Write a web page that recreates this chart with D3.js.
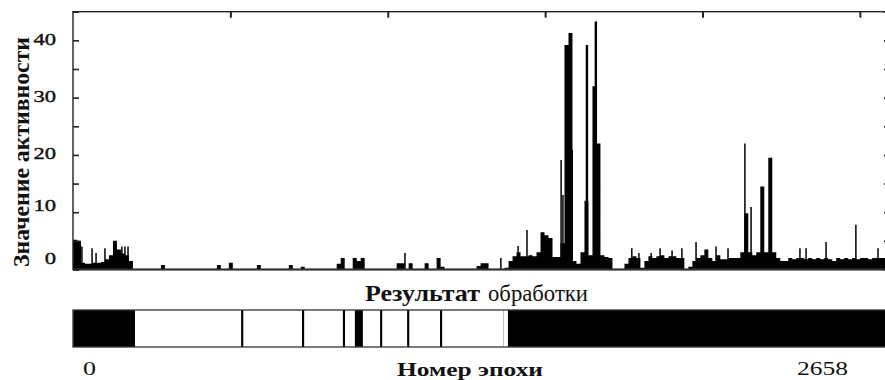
<!DOCTYPE html>
<html>
<head>
<meta charset="utf-8">
<script src="https://cdn.jsdelivr.net/npm/d3@7"></script>
<style>
  body { margin: 0; background: #fff; }
  svg { display: block; font-family: "Liberation Serif", "DejaVu Serif", serif; }
</style>
</head>
<body>
<div id="chart"></div>
<script>
// epochs in the record and the bin size used for the activity envelope
const totalEpochs = 2658;
const binSize = 13;

// activity level per bin of 13 epochs
const activity = [
  5.2, 5.0, 1.2, 1.0, 1.0, 1.2, 1.2, 1.3, 1.8, 2.5, 5.0, 3.5, 2.8, 2.5, 1.5,
  0, 0, 0, 0, 0, 0, 0, 0.8, 0, 0, 0, 0, 0, 0, 0, 0, 0, 0, 0, 0, 0, 0.8,
  0, 0, 1.2, 0, 0, 0, 0, 0, 0, 0.8, 0, 0, 0, 0, 0, 0, 0, 0.8, 0, 0, 0.5,
  0, 0, 0, 0, 0, 0, 0, 0, 1.0, 2.0, 0, 0, 2.0, 1.5, 2.0,
  0, 0, 0, 0, 0, 0, 0, 0, 1.1, 1.1, 0, 1.1, 0, 0, 0, 1.1, 0, 0, 2.0, 0.5,
  0, 0, 0, 0, 0, 0, 0, 0, 0.6, 1.1, 1.1, 0, 0, 0, 0, 0.3,
  1.5, 2.3, 3.0, 2.3, 2.3, 2.5, 2.3, 3.0, 6.5, 6.0, 5.5, 2.2, 2.2, 4.6,
  39.2, 41.3, 1.5, 1.0, 3.0, 12, 2.5, 32, 22, 2.5, 2.2, 2.0, 0, 0, 0,
  1.0, 2.0, 2.3, 2.0, 0.3, 1.5, 2.3, 2.0, 2.3, 2.5, 2.0, 2.3, 2.3, 2.0, 2.0,
  0, 0.5, 1.5, 2.0, 2.5, 3.5, 2.0, 1.5, 2.5, 1.8, 1.8, 2.0, 2.0, 2.0, 3.0,
  9.8, 3.0, 2.5, 3.0, 14.5, 3.0, 19.5, 3.0, 2.0, 1.5, 1.5, 2.0, 1.8, 2.0,
  2.0, 1.8, 2.0, 1.8, 2.0, 1.8, 2.0, 1.8, 1.5, 2.0, 1.8, 2.0, 1.8, 2.0,
  1.8, 2.0, 2.0, 1.8, 2.0, 2.0, 2.0, 2.0, 2.0
];

// single-epoch spikes that rise above the envelope
const spikeEpochs = [29, 62, 75, 104, 137, 159, 169, 179, 1080, 1392, 1448, 1477,
  1588, 1594, 1624, 1672, 1701, 1818, 1841, 1881, 1910, 1949, 1981, 2027, 2092,
  2131, 2186, 2206, 2365, 2385, 2450, 2547, 2619];
const spikeValues = [4.0, 3.7, 2.9, 3.7, 4.3, 4.0, 4.0, 4.0, 2.9, 2.0, 4.1, 6.9,
  19.1, 13, 20.9, 39.2, 43.3, 3.7, 2.9, 2.9, 3.7, 3.3, 3.7, 4.8, 4.0,
  3.7, 22, 10.9, 3.7, 3.7, 4.8, 7.8, 3.7];

// processing result: epoch ranges and class (1 = detected, 0 = none, 2 = borderline)
const segFrom  = [0, 202, 547, 745, 878, 917, 999, 1087, 1194, 1399, 1415];
const segTo    = [202, 1415, 554, 752, 885, 943, 1006, 1094, 1201, 1402, 2658];
const segClass = [1, 0, 1, 1, 1, 1, 1, 1, 1, 2, 1];

const yTickValues = [0, 5, 10, 15, 20, 25, 30, 35, 40, 45];
const yLabelValues = [0, 10, 20, 30, 40];
const xTickValues = [512, 1024, 1536, 2048, 2560];

const width = 885, height = 380;
const plotLeft = 73, plotRight = 890, plotTop = 11.7, plotBottom = 269.5;

const svg = d3.select('#chart').append('svg')
  .attr('width', width)
  .attr('height', height);

const x = d3.scaleLinear().domain([0, totalEpochs]).range([plotLeft, plotRight]);
const y = d3.scaleLinear().domain([0, 45]).range([plotBottom, plotTop]);

// activity envelope
const bins = activity.map((v, i) => ({e: i * binSize, v}));
bins.push({e: activity.length * binSize, v: 0});

svg.append('defs').append('clipPath').attr('id', 'plotClip')
  .append('rect')
  .attr('x', plotLeft).attr('y', plotTop)
  .attr('width', plotRight - plotLeft).attr('height', plotBottom - plotTop);

const plot = svg.append('g').attr('clip-path', 'url(#plotClip)');

const area = d3.area()
  .curve(d3.curveStepAfter)
  .x(d => x(d.e))
  .y0(y(0))
  .y1(d => y(d.v));

plot.append('path')
  .datum(bins)
  .attr('d', area)
  .attr('fill', '#000');

plot.selectAll('line.spike')
  .data(spikeEpochs.map((e, i) => ({e, v: spikeValues[i]})))
  .join('line')
  .attr('class', 'spike')
  .attr('x1', d => x(d.e)).attr('x2', d => x(d.e))
  .attr('y1', y(0)).attr('y2', d => y(d.v))
  .attr('stroke', '#000')
  .attr('stroke-width', d => d.v > 30 ? 2.4 : 1.5);

// frame
svg.append('rect')
  .attr('x', plotLeft).attr('y', plotTop)
  .attr('width', plotRight - plotLeft).attr('height', plotBottom - plotTop)
  .attr('fill', 'none')
  .attr('stroke', '#222')
  .attr('stroke-width', 1.4);
svg.append('line')
  .attr('x1', plotLeft).attr('x2', plotRight)
  .attr('y1', plotBottom).attr('y2', plotBottom)
  .attr('stroke', '#333').attr('stroke-width', 2.2);

// left axis with inward ticks
const labelShift = v => v === 0 ? -12 : v === 10 ? -8 : -2;
const yAxis = svg.append('g')
  .attr('transform', `translate(${plotLeft},0)`)
  .call(d3.axisLeft(y)
    .tickValues(yTickValues)
    .tickSizeInner(-6)
    .tickSizeOuter(0)
    .tickPadding(17)
    .tickFormat(v => yLabelValues.includes(v) ? v : ''));
yAxis.select('.domain').remove();
yAxis.selectAll('.tick line').attr('stroke', '#222').attr('stroke-width', 1.6);
yAxis.selectAll('.tick text')
  .attr('font-size', 17)
  .attr('fill', '#111')
  .attr('stroke', '#111')
  .attr('stroke-width', 0.4)
  .attr('font-family', '"Liberation Serif", serif')
  .attr('dy', v => (labelShift(v) + 6) + 'px')
  .each(function (v) {
    const s = String(v);
    if (s && yLabelValues.includes(v)) {
      d3.select(this).attr('textLength', 11.3 * s.length).attr('lengthAdjust', 'spacingAndGlyphs');
    }
  });

// right axis ticks
const yAxisR = svg.append('g')
  .attr('transform', `translate(${plotRight},0)`)
  .call(d3.axisRight(y).tickValues(yTickValues).tickSizeInner(-6).tickSizeOuter(0).tickFormat(''));
yAxisR.select('.domain').remove();
yAxisR.selectAll('.tick line').attr('stroke', '#222').attr('stroke-width', 1.6);

// top axis ticks
const xAxisTop = svg.append('g')
  .attr('transform', `translate(0,${plotTop})`)
  .call(d3.axisTop(x).tickValues(xTickValues).tickSizeInner(-6).tickSizeOuter(0).tickFormat(''));
xAxisTop.select('.domain').remove();
xAxisTop.selectAll('.tick line').attr('stroke', '#222').attr('stroke-width', 2);

// y title
svg.append('text')
  .attr('transform', 'translate(28.5,152) rotate(-90)')
  .attr('text-anchor', 'middle')
  .attr('font-size', 23)
  .attr('font-weight', 'bold')
  .attr('fill', '#111')
  .attr('textLength', 230)
  .attr('lengthAdjust', 'spacingAndGlyphs')
  .text('Значение активности');

// result bar
const barTop = 310, barBottom = 347;
const segColor = c => c === 1 ? '#000' : c === 2 ? '#bbb' : '#fff';
const bar = svg.append('g');
bar.selectAll('rect.seg')
  .data(segFrom.map((f, i) => ({f, t: segTo[i], c: segClass[i]})))
  .join('rect')
  .attr('class', 'seg')
  .attr('x', d => x(d.f))
  .attr('y', barTop)
  .attr('width', d => x(d.t) - x(d.f))
  .attr('height', barBottom - barTop)
  .attr('fill', d => segColor(d.c));
bar.append('rect')
  .attr('x', plotLeft).attr('y', barTop)
  .attr('width', plotRight - plotLeft).attr('height', barBottom - barTop)
  .attr('fill', 'none')
  .attr('stroke', '#333')
  .attr('stroke-width', 1.3);

const title = svg.append('text')
  .attr('y', 300.5)
  .attr('font-size', 23)
  .attr('fill', '#111');
title.append('tspan')
  .attr('x', 365)
  .attr('font-weight', 'bold')
  .attr('textLength', 115)
  .attr('lengthAdjust', 'spacingAndGlyphs')
  .text('Результат');
title.append('tspan')
  .attr('x', 488)
  .attr('textLength', 100)
  .attr('lengthAdjust', 'spacingAndGlyphs')
  .text('обработки');

// bottom labels
svg.append('text')
  .attr('x', 83).attr('y', 375)
  .attr('font-size', 19).attr('fill', '#111')
  .attr('textLength', 13).attr('lengthAdjust', 'spacingAndGlyphs')
  .text('0');
svg.append('text')
  .attr('x', 797).attr('y', 375)
  .attr('font-size', 19).attr('fill', '#111')
  .attr('textLength', 51).attr('lengthAdjust', 'spacingAndGlyphs')
  .text(String(totalEpochs));
svg.append('text')
  .attr('x', 397).attr('y', 376)
  .attr('font-size', 19).attr('font-weight', 'bold').attr('fill', '#111')
  .attr('textLength', 146).attr('lengthAdjust', 'spacingAndGlyphs')
  .text('Номер эпохи');
</script>
</body>
</html>
